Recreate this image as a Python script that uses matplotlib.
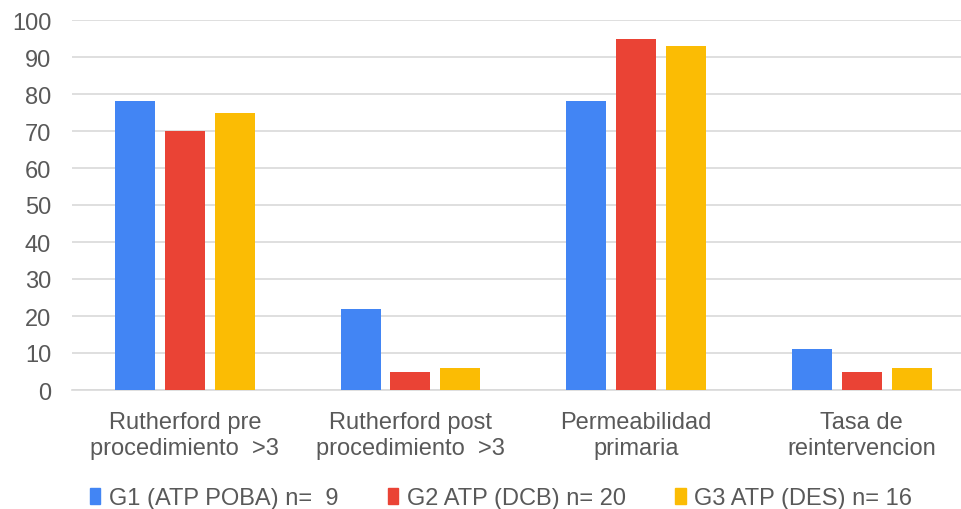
import matplotlib.pyplot as plt
import matplotlib.patches as mpatches
import numpy as np

# datos
categorias = ["Rutherford pre\nprocedimiento  >3", "Rutherford post\nprocedimiento  >3",
              "Permeabilidad\nprimaria", "Tasa de\nreintervencion"]
g1 = [78, 22, 78, 11]
g2 = [70, 5, 95, 5]
g3 = [75, 6, 93, 6]
series = ["G1 (ATP POBA) n=  9", "G2 ATP (DCB) n= 20", "G3 ATP (DES) n= 16"]
colores = ["#4285F4", "#EA4335", "#FBBC04"]
ticks_y = [0, 10, 20, 30, 40, 50, 60, 70, 80, 90, 100]

plt.rcParams['font.family'] = ['Liberation Sans', 'DejaVu Sans']
gris = "#595959"

fig = plt.figure(figsize=(9.61, 5.1), dpi=100)
ax = fig.add_axes([72 / 961, 1 - 391 / 510, (961 - 72) / 961, 370 / 510])

x = np.arange(len(categorias))
ancho = 0.177
paso = 0.221
for i, (vals, col) in enumerate(zip([g1, g2, g3], colores)):
    ax.bar(x + (i - 1) * paso, vals, width=ancho, color=col, zorder=3)

ax.set_ylim(0, 100)
ax.set_xlim(-0.5, 3.44)
ax.set_yticks(ticks_y)
ax.set_xticks(x)
ax.set_xticklabels(categorias, fontsize=17, color=gris, linespacing=1.25)
ax.tick_params(axis='y', labelsize=17, labelcolor=gris, length=0, pad=15)
ax.tick_params(axis='x', length=0, pad=15)
ax.grid(axis='y', color='#d9d9d9', linewidth=1.2, zorder=0)
for s in ['top', 'right', 'left']:
    ax.spines[s].set_visible(False)
ax.spines['bottom'].set_color('#d9d9d9')
ax.spines['bottom'].set_linewidth(1.2)

handles = [mpatches.Patch(color=c, label=s) for c, s in zip(colores, series)]
fig.legend(handles=handles, ncol=3, loc='center', bbox_to_anchor=(501 / 961, 1 - 499 / 510),
           frameon=False, fontsize=17, handlelength=0.45, handleheight=0.65,
           handletextpad=0.35, columnspacing=2.1, labelcolor=gris,
           borderpad=0, borderaxespad=0)

fig.savefig("out.png", dpi=100)
